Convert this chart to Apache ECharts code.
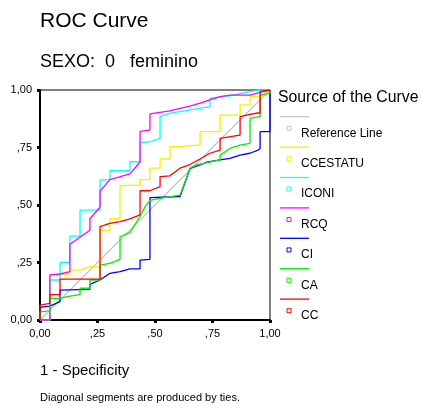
<!DOCTYPE html>
<html>
<head>
<meta charset="utf-8">
<script src="https://cdn.jsdelivr.net/npm/echarts@6/dist/echarts.min.js"></script>
<style>
html,body{margin:0;padding:0;background:#fff;}
#c{width:422px;height:410px;}
</style>
</head>
<body>
<div id="c"></div>
<script>
// ---- data ----
var seriesNames = ['Reference Line', 'CCESTATU', 'ICONI', 'RCQ', 'CI', 'CA', 'CC'];
var seriesColors = ['#c4c4c4', '#f2f200', '#00ffff', '#ff00ff', '#0000ff', '#00f000', '#ff0000'];
var xTickLabels = ['0,00', ',25', ',50', ',75', '1,00'];
var yTickLabels = ['0,00', ',25', ',50', ',75', '1,00'];

var refLine = [[0, 0], [1, 1]];
var ccestatu = [[0,0],[0.043,0],[0.043,0.196],[0.13,0.2],[0.13,0.217],[0.174,0.217],[0.174,0.225],[0.217,0.232],[0.261,0.232],[0.261,0.39],[0.304,0.39],[0.304,0.442],[0.348,0.442],[0.348,0.583],[0.435,0.587],[0.435,0.61],[0.478,0.61],[0.478,0.66],[0.522,0.66],[0.522,0.70],[0.565,0.70],[0.565,0.754],[0.609,0.754],[0.696,0.761],[0.696,0.819],[0.783,0.819],[0.783,0.891],[0.87,0.891],[0.87,0.935],[0.913,0.935],[0.913,0.971],[0.957,0.971],[1,1]];
var iconi = [[0,0],[0.043,0],[0.043,0.174],[0.087,0.174],[0.087,0.25],[0.13,0.25],[0.13,0.365],[0.174,0.365],[0.174,0.478],[0.261,0.478],[0.261,0.609],[0.304,0.609],[0.304,0.649],[0.391,0.649],[0.391,0.688],[0.435,0.688],[0.435,0.771],[0.478,0.775],[0.522,0.79],[0.522,0.884],[0.565,0.899],[0.609,0.906],[0.739,0.928],[0.739,0.964],[0.826,0.975],[0.913,0.993],[0.957,1],[1,1]];
var rcq = [[0,0],[0.043,0],[0.043,0.196],[0.087,0.2],[0.13,0.21],[0.13,0.329],[0.217,0.39],[0.217,0.44],[0.261,0.49],[0.261,0.56],[0.304,0.61],[0.391,0.635],[0.435,0.687],[0.435,0.82],[0.478,0.826],[0.478,0.896],[0.565,0.909],[0.609,0.92],[0.652,0.93],[0.696,0.943],[0.739,0.957],[0.783,0.971],[0.826,0.978],[0.913,0.978],[0.957,0.99],[1,1]];
var ci = [[0,0],[0,0.055],[0.043,0.06],[0.087,0.08],[0.087,0.13],[0.217,0.133],[0.217,0.155],[0.261,0.174],[0.304,0.203],[0.348,0.21],[0.391,0.222],[0.435,0.222],[0.435,0.26],[0.478,0.264],[0.478,0.532],[0.609,0.537],[0.652,0.659],[0.696,0.674],[0.725,0.686],[0.783,0.696],[0.826,0.703],[0.87,0.717],[0.913,0.725],[0.948,0.739],[0.957,0.746],[0.957,0.819],[1,0.819],[1,1]];
var ca = [[0,0],[0,0.035],[0.043,0.04],[0.043,0.094],[0.087,0.094],[0.13,0.104],[0.174,0.11],[0.174,0.138],[0.217,0.138],[0.217,0.174],[0.261,0.174],[0.261,0.239],[0.304,0.246],[0.348,0.264],[0.348,0.362],[0.391,0.38],[0.435,0.45],[0.457,0.493],[0.478,0.52],[0.522,0.529],[0.609,0.543],[0.652,0.66],[0.681,0.674],[0.783,0.696],[0.783,0.717],[0.826,0.746],[0.87,0.76],[0.913,0.768],[0.913,0.877],[0.957,0.884],[0.957,0.978],[1,0.986],[1,1]];
var cc = [[0,0],[0,0.065],[0.043,0.072],[0.043,0.11],[0.087,0.11],[0.087,0.178],[0.261,0.178],[0.261,0.406],[0.304,0.42],[0.348,0.428],[0.391,0.44],[0.435,0.457],[0.435,0.562],[0.478,0.562],[0.522,0.58],[0.522,0.623],[0.565,0.627],[0.609,0.66],[0.652,0.676],[0.696,0.70],[0.739,0.725],[0.783,0.739],[0.783,0.79],[0.87,0.804],[0.87,0.884],[0.913,0.894],[0.948,0.9],[0.957,0.9],[0.957,0.993],[1,1]];
var seriesData = [refLine, ccestatu, iconi, rcq, ci, ca, cc];

// ---- chart ----
var FONT = '"Liberation Sans", Arial, sans-serif';
var chart = echarts.init(document.getElementById('c'), null, {renderer: 'canvas'});

var series = seriesNames.map(function (n, i) {
  return {
    name: n,
    type: 'line',
    data: seriesData[i],
    symbol: 'none',
    silent: true,
    lineStyle: {color: seriesColors[i], width: 1.3},
    z: 2 + i
  };
});

var graphics = [
  {type: 'text', left: 40, top: 11, style: {text: 'ROC Curve', font: '21px ' + FONT, fill: '#000'}},
  {type: 'text', left: 40, top: 53, style: {text: 'SEXO:  0   feminino', font: '18px ' + FONT, fill: '#000'}},
  {type: 'text', left: 40, top: 363, style: {text: '1 - Specificity', font: '15px ' + FONT, fill: '#000'}},
  {type: 'text', left: 40, top: 392, style: {text: 'Diagonal segments are produced by ties.', font: '11px ' + FONT, fill: '#000'}},
  {type: 'text', left: 278, top: 90, style: {text: 'Source of the Curve', font: '15.8px ' + FONT, fill: '#000'}}
];
seriesNames.forEach(function (n, i) {
  var ly = 116.7 + i * 30.4;
  graphics.push({type: 'line', shape: {x1: 280, y1: ly, x2: 309, y2: ly}, style: {stroke: seriesColors[i], lineWidth: 1.3}});
  graphics.push({type: 'rect', shape: {x: 287, y: ly + 9.6, width: 4, height: 4}, style: {fill: '#fff', stroke: seriesColors[i], lineWidth: 1}});
  graphics.push({type: 'text', left: 301, top: ly + 10.5, style: {text: n, font: '12px ' + FONT, fill: '#000'}});
});

chart.setOption({
  animation: false,
  backgroundColor: '#fff',
  grid: {left: 40, top: 90, width: 230, height: 230, show: true, borderColor: '#000', borderWidth: 1, backgroundColor: 'transparent'},
  xAxis: {
    type: 'value', min: 0, max: 1, interval: 0.25,
    axisLine: {show: true, onZero: false, lineStyle: {color: '#000', width: 2}},
    axisTick: {show: true, length: 3, lineStyle: {color: '#000', width: 3}},
    splitLine: {show: false},
    axisLabel: {margin: 8, color: '#000', fontSize: 11, fontFamily: FONT,
      formatter: function (v, idx) { return xTickLabels[Math.round(v / 0.25)]; }}
  },
  yAxis: {
    type: 'value', min: 0, max: 1, interval: 0.25,
    axisLine: {show: true, onZero: false, lineStyle: {color: '#000', width: 2}},
    axisTick: {show: true, length: 3, lineStyle: {color: '#000', width: 3}},
    splitLine: {show: false},
    axisLabel: {margin: 8, color: '#000', fontSize: 11, fontFamily: FONT,
      formatter: function (v, idx) { return yTickLabels[Math.round(v / 0.25)]; }}
  },
  series: series,
  graphic: graphics
});
</script>
</body>
</html>
